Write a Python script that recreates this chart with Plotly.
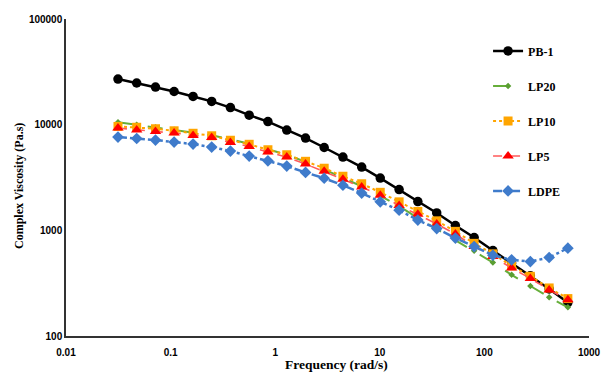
import plotly.graph_objects as go

freq = [0.0314, 0.0474, 0.0717, 0.108, 0.164, 0.247, 0.373, 0.564, 0.852, 1.29,
        1.95, 2.94, 4.44, 6.71, 10.1, 15.3, 23.1, 35.0, 52.8, 79.8,
        120.5, 182, 275, 416, 628]

pb1 = [27000, 24800, 22700, 20600, 18500, 16600, 14500, 12300, 10700, 8890,
       7470, 6080, 4930, 3970, 3120, 2430, 1870, 1460, 1110, 855,
       644, 490, 371, 279, 207]
lp20 = [10540, 9980, 9450, 8950, 8470, 7930, 7270, 6590, 5850, 5190,
        4450, 3780, 3140, 2610, 2120, 1690, 1310, 1030, 813, 640,
        496, 379, 298, 233, 187]
lp10 = [9620, 9450, 9150, 8750, 8290, 7850, 7120, 6520, 5790, 5190,
        4500, 3870, 3250, 2760, 2290, 1860, 1510, 1230, 978, 753,
        599, 461, 367, 285, 226]
lp5 = [9290, 8890, 8620, 8330, 7900, 7570, 6780, 6220, 5500, 4930,
       4240, 3620, 3040, 2570, 2150, 1720, 1420, 1150, 923, 702,
       565, 439, 351, 273, 220]
ldpe = [7630, 7400, 7150, 6840, 6550, 6140, 5620, 5040, 4550, 4060,
        3530, 3110, 2670, 2250, 1860, 1550, 1250, 1040, 845, 702,
        582, 526, 506, 553, 678]

x_ticks = [0.01, 0.1, 1, 10, 100, 1000]
x_tick_labels = ["0.01", "0.1", "1", "10", "100", "1000"]
y_ticks = [100, 1000, 10000, 100000]
y_tick_labels = ["100", "1000", "10000", "100000"]

series = [
    ("PB-1", pb1, dict(color="#000000", width=2.5, dash="solid"),
     dict(symbol="circle", size=9.5, color="#000000")),
    ("LP20", lp20, dict(color="#66AE3A", width=2, dash="longdash"),
     dict(symbol="diamond", size=5, color="#5A9E32")),
    ("LP10", lp10, dict(color="#FFA500", width=2, dash="dot"),
     dict(symbol="square", size=9, color="#FFA500")),
    ("LP5", lp5, dict(color="#FF5A5A", width=1.6, dash="dash"),
     dict(symbol="triangle-up", size=10, color="#FF0000")),
    ("LDPE", ldpe, dict(color="#3F7BCB", width=2.5, dash="dashdot"),
     dict(symbol="diamond", size=9, color="#3F7BCB")),
]

fig = go.Figure()
for i, (name, vals, line, marker) in enumerate(series):
    fig.add_trace(go.Scatter(x=freq, y=vals, name=f"<b>{name}</b>", mode="lines+markers",
                             line=line, marker=marker, legendgroup=f"g{i}"))

bold = lambda labels: [f"<b>{t}</b>" for t in labels]

fig.update_layout(
    width=613, height=376,
    margin=dict(l=66, r=12, t=19, b=40),
    paper_bgcolor="white", plot_bgcolor="white",
    showlegend=True,
    legend=dict(x=0.807, xanchor="left", y=0.945, yanchor="top",
                font=dict(family="Liberation Serif", size=12, color="#000000"),
                traceorder="grouped", tracegroupgap=16,
                bgcolor="rgba(0,0,0,0)", itemwidth=30),
    xaxis=dict(type="log", range=[-2, 3], tickvals=x_ticks, ticktext=bold(x_tick_labels),
               showgrid=False, zeroline=False, showline=True, linecolor="#333333",
               linewidth=1.5, ticks="", ticklabelstandoff=6,
               tickfont=dict(family="Liberation Sans", size=10, color="#000000")),
    yaxis=dict(type="log", range=[2, 5], tickvals=y_ticks, ticktext=bold(y_tick_labels),
               showgrid=False, zeroline=False, showline=True, linecolor="#333333",
               linewidth=1.5, ticks="",
               tickfont=dict(family="Liberation Sans", size=10, color="#000000")),
    font=dict(family="Liberation Sans"),
    annotations=[
        dict(text="<b>Frequency (rad/s)</b>", xref="paper", yref="paper",
             x=0.518, y=-0.12, xanchor="center", yanchor="bottom", showarrow=False,
             font=dict(family="Liberation Serif", size=13.5, color="#000000")),
        dict(text="<b>Complex Viscosity (Pa.s)</b>", xref="paper", yref="paper",
             x=-0.09, y=0.473, xanchor="center", yanchor="middle", showarrow=False,
             textangle=-90,
             font=dict(family="Liberation Serif", size=12, color="#000000")),
    ],
)

fig.write_html("out.html", post_script="document.body.style.margin='0';",
               config={"displayModeBar": False})
